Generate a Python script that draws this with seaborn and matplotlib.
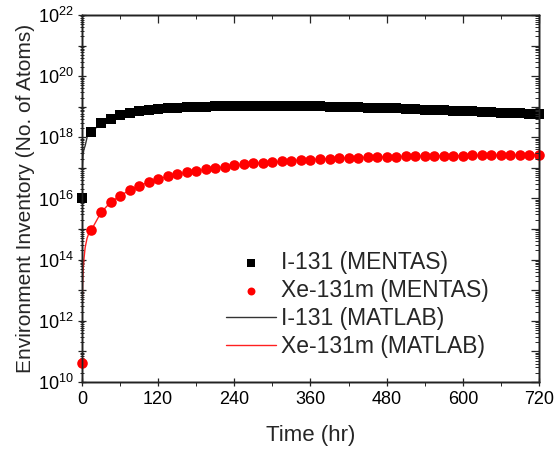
import matplotlib
matplotlib.use("Agg")
import matplotlib.pyplot as plt
import matplotlib.ticker as mticker
import numpy as np
import pandas as pd
import seaborn as sns

# MENTAS results, sampled every 15 hr
time_hr = list(range(0, 721, 15))
i131_mentas = [
    1.0e16, 1.5e18, 2.9e18, 3.9e18, 5.2e18, 6.1e18, 7.0e18, 7.7e18, 8.3e18, 8.8e18,
    9.2e18, 9.5e18, 9.8e18, 1.0e19, 1.02e19, 1.03e19, 1.04e19, 1.05e19, 1.05e19, 1.05e19,
    1.05e19, 1.05e19, 1.04e19, 1.04e19, 1.03e19, 1.02e19, 1.01e19, 1.0e19, 9.8e18, 9.6e18,
    9.4e18, 9.2e18, 9.0e18, 8.8e18, 8.5e18, 8.3e18, 8.1e18, 7.9e18, 7.6e18, 7.4e18,
    7.2e18, 7.0e18, 6.8e18, 6.6e18, 6.4e18, 6.3e18, 6.1e18, 5.9e18, 5.8e18,
]
xe131m_mentas = [
    4.2e10, 9.5e14, 3.5e15, 7.5e15, 1.22e16, 1.88e16, 2.6e16, 3.4e16, 4.3e16, 5.3e16,
    6.3e16, 7.1e16, 8.0e16, 8.9e16, 9.8e16, 1.09e17, 1.21e17, 1.30e17, 1.40e17, 1.47e17,
    1.55e17, 1.63e17, 1.71e17, 1.80e17, 1.87e17, 1.94e17, 2.0e17, 2.06e17, 2.11e17, 2.16e17,
    2.21e17, 2.25e17, 2.29e17, 2.33e17, 2.37e17, 2.40e17, 2.43e17, 2.46e17, 2.49e17, 2.51e17,
    2.53e17, 2.55e17, 2.57e17, 2.59e17, 2.60e17, 2.62e17, 2.63e17, 2.64e17, 2.65e17,
]

# MATLAB curves: dense start-up section, then the same grid as above
i131_matlab_t0 = [0, 0.5, 1.5, 3, 5, 8.5, 12]
i131_matlab_v0 = [1.0e16, 1.0e17, 2.5e17, 4.0e17, 5.3e17, 1.1e18, 1.3e18]
xe_matlab_t0 = [0, 0.5, 1, 2, 3, 5, 8, 11]
xe_matlab_v0 = [3e11, 3e12, 1.5e13, 5e13, 1e14, 2.5e14, 5e14, 7.5e14]

i131_matlab = pd.DataFrame({"t": i131_matlab_t0 + time_hr[1:],
                            "v": i131_matlab_v0 + i131_mentas[1:]})
xe_matlab = pd.DataFrame({"t": xe_matlab_t0 + time_hr[1:],
                          "v": xe_matlab_v0 + xe131m_mentas[1:]})
mentas = pd.DataFrame({"t": time_hr, "i131": i131_mentas, "xe": xe131m_mentas})

sns.set_theme(style="ticks")
plt.rcParams["font.family"] = ["Liberation Sans", "DejaVu Sans"]
plt.rcParams["mathtext.fontset"] = "custom"
plt.rcParams["mathtext.rm"] = "Liberation Sans"
plt.rcParams["mathtext.it"] = "Liberation Sans"

fig = plt.figure(figsize=(5.55, 4.5), dpi=100)
ax = fig.add_axes([0.1477, 0.1511, 0.9712 - 0.1477, 0.9667 - 0.1511])

sns.lineplot(data=i131_matlab, x="t", y="v", ax=ax, color="#333333", lw=1.0,
             label="I-131 (MATLAB)", zorder=2)
sns.lineplot(data=xe_matlab, x="t", y="v", ax=ax, color="#ff2020", lw=1.0,
             label="Xe-131m (MATLAB)", zorder=2)
sns.scatterplot(data=mentas, x="t", y="i131", ax=ax, marker="s", s=48, color="black",
                linewidth=0, label="I-131 (MENTAS)", zorder=3, clip_on=False)
sns.scatterplot(data=mentas, x="t", y="xe", ax=ax, marker="o", s=58, color="#ff0000",
                linewidth=0, label="Xe-131m (MENTAS)", zorder=3, clip_on=False)

ax.set_yscale("log")
ax.set_xlim(0, 720)
ax.set_ylim(1e10, 1e22)

ax.xaxis.set_major_locator(mticker.MultipleLocator(120))
ax.xaxis.set_minor_locator(mticker.MultipleLocator(60))
ax.yaxis.set_major_locator(mticker.LogLocator(base=10, numticks=20))
ax.yaxis.set_minor_locator(mticker.LogLocator(base=10, subs=np.arange(2, 10), numticks=20))


def _fmt(v, pos):
    e = int(round(np.log10(v)))
    return rf"$10^{{{e}}}$" if e % 2 == 0 else ""


ax.yaxis.set_major_formatter(mticker.FuncFormatter(_fmt))

for s in ax.spines.values():
    s.set_linewidth(1.0)
    s.set_color("#222222")

ax.tick_params(axis="both", which="major", labelsize=13, width=0.9, length=5.5,
               direction="inout", colors="#222222", labelcolor="black")
ax.tick_params(axis="y", which="minor", width=0.7, length=3, direction="inout")
ax.tick_params(axis="x", which="minor", width=0.7, length=3, direction="out")
ax.tick_params(axis="x", which="major", pad=4)
ax.tick_params(axis="y", which="major", pad=3)

# mirrored ticks on the right and top, pointing inward
axr = ax.twinx()
axr.set_yscale("log")
axr.set_ylim(ax.get_ylim())
axr.yaxis.set_major_locator(mticker.LogLocator(base=10, numticks=20))
axr.yaxis.set_minor_locator(mticker.LogLocator(base=10, subs=np.arange(2, 10), numticks=20))
axr.tick_params(axis="y", which="major", direction="in", length=5.5, width=0.9,
                labelright=False)
axr.tick_params(axis="y", which="minor", direction="in", length=3, width=0.7)
axt = ax.twiny()
axt.set_xlim(ax.get_xlim())
axt.xaxis.set_major_locator(mticker.MultipleLocator(120))
axt.xaxis.set_minor_locator(mticker.MultipleLocator(60))
axt.tick_params(axis="x", which="major", direction="in", length=5.5, width=0.9,
                labeltop=False)
axt.tick_params(axis="x", which="minor", direction="in", length=3, width=0.7)
for a in (axr, axt):
    a.grid(False)
    for s in a.spines.values():
        s.set_linewidth(1.0)
        s.set_color("#222222")

ax.set_xlabel("Time (hr)", fontsize=16, labelpad=12)
ax.set_ylabel("Environment Inventory (No. of Atoms)", fontsize=15, labelpad=2)

handles, labels = ax.get_legend_handles_labels()
order = [labels.index(l) for l in ["I-131 (MENTAS)", "Xe-131m (MENTAS)",
                                   "I-131 (MATLAB)", "Xe-131m (MATLAB)"]]
ax.legend([handles[i] for i in order], [labels[i] for i in order],
          loc="upper left", bbox_to_anchor=(0.315, 0.357), frameon=False,
          fontsize=16.5, borderpad=0, borderaxespad=0, labelspacing=0.22,
          handlelength=2.2, handletextpad=0.2, markerscale=0.75)

fig.savefig("out.png", dpi=100)
